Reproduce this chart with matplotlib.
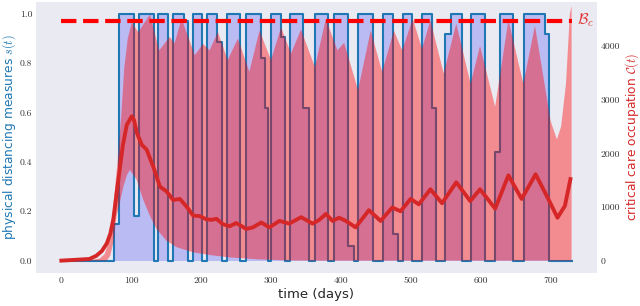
import matplotlib.pyplot as plt

plt.rcParams['mathtext.fontset'] = 'cm'

# policy s(t): switch days and level held after each switch
switch_days = [0, 76, 82.6, 104.5, 111, 132.5, 138.6, 152.9, 160, 175,
               181, 188.5, 201, 208.4, 222.6, 230.3, 237.4, 256, 264.5, 285.8,
               291, 295, 300, 314.4, 320.5, 327.6, 346, 354.7, 362.8, 381,
               390.3, 410.7, 418.8, 425, 446.3, 460.6, 474.4, 481.5, 488.6, 501.9,
               516, 530.4, 536.5, 549.4, 557.9, 573.1, 586.4, 606.4, 620.6, 627.8,
               645.7, 662.4, 691.9, 698, 730]
s_levels = [0, 0.15, 1, 0.18, 1, 0, 1, 0, 1, 0.97,
            0, 1, 0, 1, 0.886, 0, 1, 0, 1, 0.82,
            0.62, 0, 1, 0.906, 0, 1, 0.617, 0, 1, 0,
            1, 0.06, 0, 1, 0, 1, 0.107, 0, 1, 0,
            1, 0.62, 0, 0.92, 1, 0, 1, 0, 0.44, 1,
            0, 1, 0.92, 0, 0]

# upper edge of the critical care band
cmax_days = [0, 40, 55, 62, 66, 72, 77, 82, 86, 90, 95, 100.7, 110, 126.8, 140,
             155, 162, 172, 191, 202.7, 212, 224, 238, 252.6, 269, 283.5, 300,
             314.4, 328.6, 342.8, 362.8, 378.4, 395, 404.6, 424.5, 442.6, 459,
             475.8, 487.6, 502.8, 516, 528, 547, 565, 585.5, 599, 620.6, 639.6,
             661, 677.6, 700, 709, 715, 722, 727.5, 730]
cmax = [0, 5, 40, 120, 280, 690, 1380, 2070, 2760, 3590, 4140, 4440, 4260, 4590, 3920,
        4170, 4050, 4510, 3830, 4040, 3920, 4260, 3740, 4140, 3520, 4290, 3740,
        4350, 3860, 4310, 3610, 4510, 3920, 4060, 3180, 4290, 3520,
        4290, 3920, 4510, 3950, 4480, 3490, 4420, 3300, 4000, 2870, 4480,
        3300, 4380, 2600, 2260, 2500, 3300, 4600, 4750]

# lower edge of the band
cmin_days = [0, 65, 70, 74.5, 79, 84, 88.8, 94, 98, 103, 107.6, 117, 126.8, 136,
             150.5, 164.8, 188.5, 212, 240, 280, 320, 360, 730]
cmin = [0, 0, 90, 345, 830, 1100, 1380, 1600, 1690, 1600, 1510, 1140, 830, 590,
        370, 250, 155, 105, 60, 25, 5, 0, 0]

# mean critical care occupation
mean_days = [0, 40, 50, 58, 65, 70, 74.5, 79, 84, 88, 93.6, 100.7, 104, 107.8, 115,
             122, 131.5, 141, 150.5, 160, 169.5, 179, 188.5, 198, 207.5, 215, 221.8,
             231, 240.7, 250, 257, 264.5, 274, 286, 297.7, 312, 326, 343, 359.4,
             369, 378.5, 388, 397.4, 407, 421, 440, 456.8, 473.4, 485.3, 499.6,
             511.4, 528, 544.6, 565, 585, 599, 620.6, 639.6, 658.5, 678.5, 696.6,
             709.8, 720.4, 728.3]
mean_c = [0, 30, 90, 180, 320, 500, 780, 1250, 1750, 2150, 2530, 2690, 2620, 2390, 2160,
          2070, 1750, 1380, 1290, 1130, 1150, 1010, 840, 830, 770, 760, 780,
          680, 640, 700, 650, 590, 620, 710, 620, 740, 690, 810, 690,
          760, 870, 740, 800, 740, 620, 940, 740, 990, 920, 1150,
          1050, 1330, 1070, 1460, 1110, 1330, 970, 1590, 1150, 1610, 1150,
          800, 1020, 1520]

capacity = 4476

fig, ax = plt.subplots(figsize=(6.4, 3.06), dpi=100)
fig.subplots_adjust(left=0.056, right=0.933, bottom=0.108, top=0.995)
ax.set_facecolor('#EAEAF2')

ax.fill_between(switch_days, 0, s_levels, step='post', color='blue', alpha=0.2, lw=0)
ax.step(switch_days, s_levels, where='post', color='#1f77b4', lw=1.5)
ax.set_xlim(-36.5, 766.5)
ax.set_ylim(-0.05, 1.05)
ax.set_xticks(range(0, 701, 100))
ax.set_yticks([0, 0.2, 0.4, 0.6, 0.8, 1.0])
ax.set_yticklabels(['0.0', '0.2', '0.4', '0.6', '0.8', '1.0'])
ax.set_xlabel('time (days)', fontsize=9.5, color='#262626', labelpad=2)
ax.set_ylabel('physical distancing measures $s(t)$', fontsize=8.8, color='#1f77b4', labelpad=1)

ax2 = ax.twinx()
ax2.fill(cmax_days + cmin_days[::-1], cmax + cmin[::-1], color='red', alpha=0.4, lw=0)
ax2.plot(mean_days, mean_c, color='#d62728', lw=2.8)
ax2.plot([0, 730], [capacity, capacity], '--', color='red', lw=3)
ax2.text(738, capacity, r'$\mathcal{B}_c$', color='#e03030', fontsize=11, va='center')
ax2.set_ylim(-230, 4830)
ax2.set_yticks(range(0, 4001, 1000))
ax2.set_ylabel(r'critical care occupation $\mathcal{C}(t)$', fontsize=8.8, color='#d62728', labelpad=2)

for a in (ax, ax2):
    for sp in a.spines.values():
        sp.set_visible(False)
    a.tick_params(length=0, labelsize=7, labelcolor='#333333', pad=2.5)
    for lab in a.get_xticklabels() + a.get_yticklabels():
        lab.set_fontfamily('cmr10')

fig.savefig('out.png')
